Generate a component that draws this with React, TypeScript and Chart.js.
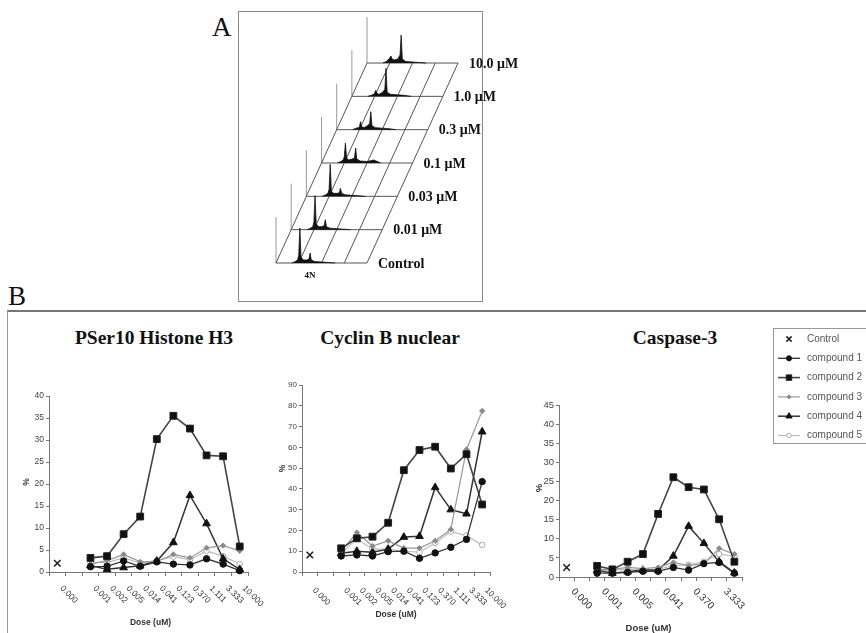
import React, { useEffect, useRef } from "react";
import { Chart, registerables } from "chart.js";
import { drawPoint } from "chart.js/helpers";

Chart.register(...registerables);

// ---------------- Panel A : DNA content histograms ----------------
const aRowLabels = ["Control", "0.01 μM", "0.03 μM", "0.1 μM", "0.3 μM", "1.0 μM", "10.0 μM"];
const a4NLabel = "4N";
const a4NChannel = 1.5;
const aChannels = [0.7, 0.85, 0.95, 1.0, 1.05, 1.1, 1.2, 1.35, 1.45, 1.5, 1.55, 1.7, 2.0, 2.3, 2.6];
const aCountsControl = [0, 1.5, 3, 8, 35, 6, 3, 3, 4, 10, 3, 1.5, 1, 0.5, 0];
const aCounts001 = [0, 1.5, 3, 8, 34, 6, 3, 3, 4, 10, 3, 1.5, 1, 0.5, 0];
const aCounts003 = [0, 1.5, 3, 7, 32, 5, 3, 3, 3.5, 8, 3, 1.5, 1, 0.5, 0];
const aCounts01 = [0, 1.5, 3, 6, 20, 5, 3, 4, 5, 15, 4, 2, 1.5, 3, 0];
const aCounts03 = [0, 1.5, 2, 3, 8, 3, 2, 4, 6, 18, 4, 2, 1.5, 1, 0];
const aCounts10 = [0, 1, 2, 3, 6, 3, 2, 4, 7, 28, 4, 2, 1.5, 1, 0];
const aCounts100 = [0, 1.5, 4, 5, 7, 4, 3, 4, 8, 28, 4, 1.5, 1, 0.5, 0];
const aCounts = [aCountsControl, aCounts001, aCounts003, aCounts01, aCounts03, aCounts10, aCounts100];
const aGridDivisions = 4;
const aRowStepY = 33.33;
const aRowStepX = 0.667;
const aAxisHeight = 46;

// ---------------- Panel B : dose response ----------------
const doseLabels = ["0.000", "", "0.001", "0.002", "0.005", "0.014", "0.041", "0.123", "0.370", "1.111", "3.333", "10.000"];
const controlName = "Control";
const compoundNames = ["compound 1", "compound 2", "compound 3", "compound 4", "compound 5"];
const xTitle = "Dose (uM)";
const yTitle = "%";
const chartTitles = ["PSer10 Histone H3", "Cyclin B nuclear", "Caspase-3"];

// PSer10 Histone H3
const h3Control = [2.0];
const h3C1 = [1.2, 1.3, 2.5, 1.3, 2.3, 1.8, 1.6, 3.0, 1.8, 0.3];
const h3C2 = [3.2, 3.6, 8.6, 12.6, 30.2, 35.5, 32.6, 26.5, 26.3, 5.8];
const h3C3 = [1.8, 2.6, 4.0, 2.3, 2.4, 4.0, 3.2, 5.5, 6.0, 4.8];
const h3C4 = [1.5, 0.6, 1.0, 1.4, 2.5, 6.7, 17.4, 11.0, 3.0, 0.6];
const h3C5 = [2.2, 2.2, 3.2, 2.0, 2.6, 3.5, 2.8, 4.8, 3.6, 1.8];

// Cyclin B nuclear
const cbControl = [8.2];
const cbC1 = [7.7, 8.2, 7.7, 9.8, 10.0, 6.6, 9.2, 11.9, 15.7, 43.5];
const cbC2 = [11.4, 16.2, 17.0, 23.7, 49.0, 58.7, 60.3, 49.8, 56.7, 32.5];
const cbC3 = [10.0, 19.0, 12.5, 15.0, 11.5, 11.5, 15.0, 20.5, 59.0, 77.5];
const cbC4 = [9.0, 10.0, 9.5, 11.0, 16.8, 17.2, 40.7, 30.0, 28.0, 67.5];
const cbC5 = [9.0, 16.0, 11.0, 11.0, 10.0, 9.5, 14.0, 19.5, 17.5, 13.0];

// Caspase-3
const csControl = [2.5];
const csC1 = [1.0, 1.0, 1.2, 1.5, 1.5, 2.5, 1.8, 3.5, 3.8, 1.0];
const csC2 = [2.9, 2.0, 4.0, 6.0, 16.5, 26.1, 23.5, 22.9, 15.1, 4.0];
const csC3 = [2.0, 2.0, 2.5, 2.2, 2.5, 3.8, 3.0, 3.5, 7.5, 6.0];
const csC4 = [1.8, 1.0, 1.4, 1.8, 1.8, 5.5, 13.3, 8.8, 4.0, 1.1];
const csC5 = [1.5, 1.8, 2.0, 1.8, 2.0, 3.0, 3.2, 4.0, 6.0, 5.5];

// styles
const markerStyles = ["circle", "rect", "rectRot", "triangle", "circle"];
const markerRadius = [3.2, 4.8, 2.6, 4.4, 2.8];
const markerFill = ["#111", "#111", "#8a8a8a", "#111", "#fff"];
const markerBorder = ["#111", "#222", "#8a8a8a", "#111", "#aaa"];
const lineColors = ["#333", "#444", "#999", "#333", "#bbb"];
const lineWidths = [1.3, 1.6, 1.2, 1.5, 1.2];

const SANS = '"Liberation Sans", Arial, sans-serif';
const SERIF = '"Liberation Serif", "Times New Roman", serif';

const doseAxisPlugin = {
  id: "doseAxis",
  afterDraw(chart: any, _a: any, o: any) {
    const { ctx, chartArea } = chart;
    const xs = chart.scales.x;
    const ys = chart.scales.y;
    const labels = chart.data.labels as string[];
    ctx.save();
    ctx.fillStyle = "#333";
    ctx.font = `${o.tickSize}px ${SANS}`;
    ctx.textAlign = "left";
    ctx.textBaseline = "middle";
    labels.forEach((lab, i) => {
      if (!lab || i % o.every !== 0) return;
      const px = xs.getPixelForValue(i);
      ctx.save();
      ctx.translate(px + o.labelDx, chartArea.bottom + o.labelDy);
      ctx.rotate(Math.PI / 4);
      ctx.fillText(lab, 0, 0);
      ctx.restore();
    });
    ctx.font = `bold ${o.titleSize}px ${SANS}`;
    ctx.textAlign = "center";
    ctx.fillText(xs.options.title.text, (chartArea.left + chartArea.right) / 2 + o.xTitleDx, chartArea.bottom + o.xTitleDy);
    ctx.save();
    ctx.translate(chartArea.left + o.yTitleDx, (chartArea.top + chartArea.bottom) / 2 + o.yTitleDy);
    ctx.rotate(-Math.PI / 2);
    ctx.fillText(ys.options.title.text, 0, 0);
    ctx.restore();
    ctx.restore();
  },
};

const sideLegendPlugin = {
  id: "sideLegend",
  afterDraw(chart: any, _a: any, o: any) {
    if (!o || !o.display) return;
    const ctx = chart.ctx;
    ctx.save();
    ctx.strokeStyle = "#999";
    ctx.lineWidth = 1;
    ctx.strokeRect(o.x + 0.5, o.y + 0.5, o.w, o.h);
    chart.data.datasets.forEach((ds: any, i: number) => {
      const cy = o.y + o.firstRow + i * o.rowGap;
      const x0 = o.x + o.sampleDx;
      if (ds.showLine !== false) {
        ctx.strokeStyle = ds.borderColor;
        ctx.lineWidth = ds.borderWidth;
        ctx.beginPath();
        ctx.moveTo(x0, cy);
        ctx.lineTo(x0 + o.sampleW, cy);
        ctx.stroke();
      }
      ctx.fillStyle = ds.pointBackgroundColor;
      ctx.strokeStyle = ds.pointBorderColor;
      ctx.lineWidth = ds.pointBorderWidth;
      drawPoint(ctx, { pointStyle: ds.pointStyle, radius: ds.pointRadius * 0.8, rotation: 0, borderWidth: ds.pointBorderWidth } as any, x0 + o.sampleW / 2, cy);
      ctx.fillStyle = "#555";
      ctx.font = `${o.fontSize}px ${SANS}`;
      ctx.textAlign = "left";
      ctx.textBaseline = "middle";
      ctx.fillText(ds.label, o.x + o.textDx, cy);
    });
    ctx.restore();
  },
};

const panelALabelsPlugin = {
  id: "panelALabels",
  afterDraw(chart: any) {
    const { ctx } = chart;
    const xs = chart.scales.x;
    const ys = chart.scales.y;
    ctx.save();
    ctx.fillStyle = "#111";
    ctx.font = `bold 14px ${SERIF}`;
    ctx.textAlign = "left";
    ctx.textBaseline = "middle";
    aRowLabels.forEach((lab, r) => {
      ctx.fillText(lab, xs.getPixelForValue(aGridDivisions + r * aRowStepX) + 11, ys.getPixelForValue(r * aRowStepY) + 1);
    });
    ctx.font = `bold 9px ${SERIF}`;
    ctx.textAlign = "center";
    ctx.fillText(a4NLabel, xs.getPixelForValue(a4NChannel), ys.getPixelForValue(0) + 13);
    ctx.restore();
  },
};

function lineDs(points: { x: number; y: number }[], color: string) {
  return { data: points, showLine: true, borderColor: color, borderWidth: 1, pointRadius: 0, fill: false, tension: 0 };
}

function makePanelA(canvas: HTMLCanvasElement) {
  const datasets: any[] = [];
  aCounts.forEach((counts, r) => {
    const base = r * aRowStepY;
    const shift = r * aRowStepX;
    datasets.push({
      data: aChannels.map((c, k) => ({ x: c + shift, y: base + counts[k] })),
      showLine: true,
      fill: { value: base },
      backgroundColor: "#111",
      borderColor: "#111",
      borderWidth: 0.8,
      pointRadius: 0,
      tension: 0,
    });
  });
  aCounts.forEach((_c, r) => {
    const base = r * aRowStepY;
    const shift = r * aRowStepX;
    datasets.push(lineDs([{ x: shift, y: base }, { x: aGridDivisions + shift, y: base }], "#555"));
  });
  const last = aCounts.length - 1;
  for (let c = 0; c <= aGridDivisions; c++) {
    datasets.push(lineDs([{ x: c, y: 0 }, { x: c + last * aRowStepX, y: last * aRowStepY }], "#555"));
  }
  aCounts.forEach((_c, r) => {
    const base = r * aRowStepY;
    const shift = r * aRowStepX;
    datasets.push(lineDs([{ x: shift, y: base }, { x: shift, y: base + aAxisHeight }], "#999"));
  });
  return new Chart(canvas, {
    type: "scatter",
    data: { datasets },
    options: {
      animation: false,
      responsive: false,
      devicePixelRatio: 1,
      events: [],
      layout: { padding: 0 },
      plugins: { legend: { display: false }, tooltip: { enabled: false } },
      scales: {
        x: { type: "linear", display: false, min: -1.582, max: 11.604 },
        y: { type: "linear", display: false, min: -38, max: 250 },
      },
    } as any,
    plugins: [panelALabelsPlugin],
  });
}

function compoundDataset(i: number, values: number[]) {
  return {
    label: compoundNames[i],
    data: [null, null, ...values],
    borderColor: lineColors[i],
    borderWidth: lineWidths[i],
    pointStyle: markerStyles[i],
    pointRadius: markerRadius[i],
    pointBackgroundColor: markerFill[i],
    pointBorderColor: markerBorder[i],
    pointBorderWidth: 1,
    fill: false,
    tension: 0,
    clip: false,
  };
}

function controlDataset(values: number[]) {
  return {
    label: controlName,
    data: values,
    showLine: false,
    borderColor: "#111",
    borderWidth: 1.5,
    pointStyle: "crossRot",
    pointRadius: 4.6,
    pointBackgroundColor: "#111",
    pointBorderColor: "#222",
    pointBorderWidth: 1.6,
    clip: false,
  };
}

function makeB(canvas: HTMLCanvasElement, cfg: any) {
  const datasets: any[] = [controlDataset(cfg.control), ...cfg.series.map((s: number[], i: number) => compoundDataset(i, s))];
  return new Chart(canvas, {
    type: "line",
    data: { labels: doseLabels, datasets },
    options: {
      animation: false,
      responsive: false,
      devicePixelRatio: 1,
      events: [],
      layout: { padding: { top: cfg.padTop, right: cfg.padRight, left: 0, bottom: 0 } },
      plugins: {
        legend: { display: false },
        tooltip: { enabled: false },
        doseAxis: cfg.axis,
        sideLegend: cfg.legend || { display: false },
      },
      scales: {
        x: {
          type: "category",
          offset: true,
          title: { display: false, text: xTitle },
          ticks: { display: false },
          grid: { offset: true, drawOnChartArea: false, drawTicks: true, tickLength: 4, color: "#777", lineWidth: 1 },
          border: { display: true, color: "#777", width: 1 },
          afterFit: (s: any) => {
            s.height = cfg.xAxisHeight;
          },
        },
        y: {
          type: "linear",
          min: 0,
          max: cfg.yMax,
          title: { display: false, text: yTitle },
          ticks: { stepSize: cfg.yStep, color: "#444", font: { size: cfg.tickFont, family: SANS }, padding: 2, autoSkip: false },
          grid: { drawOnChartArea: false, drawTicks: true, tickLength: 3, color: "#777" },
          border: { display: true, color: "#777", width: 1 },
          afterFit: (s: any) => {
            s.width = cfg.yAxisWidth;
          },
        },
      },
    } as any,
    plugins: [doseAxisPlugin, sideLegendPlugin],
  });
}

const abs = (left: number, top: number, extra: any = {}) => ({ position: "absolute" as const, left, top, ...extra });

export default function App() {
  const aRef = useRef<HTMLCanvasElement>(null);
  const c1Ref = useRef<HTMLCanvasElement>(null);
  const c2Ref = useRef<HTMLCanvasElement>(null);
  const c3Ref = useRef<HTMLCanvasElement>(null);

  useEffect(() => {
    const charts = [
      makePanelA(aRef.current!),
      makeB(c1Ref.current!, {
        control: h3Control,
        series: [h3C1, h3C2, h3C3, h3C4, h3C5],
        yMax: 40,
        yStep: 5,
        yAxisWidth: 39,
        xAxisHeight: 61,
        padTop: 16,
        padRight: 27,
        tickFont: 8.5,
        axis: { tickSize: 8.5, labelDx: 4, labelDy: 15, every: 1, titleSize: 8.5, xTitleDx: 2, xTitleDy: 51, yTitleDx: -22, yTitleDy: -2 },
      }),
      makeB(c2Ref.current!, {
        control: cbControl,
        series: [cbC1, cbC2, cbC3, cbC4, cbC5],
        yMax: 90,
        yStep: 10,
        yAxisWidth: 40,
        xAxisHeight: 61,
        padTop: 15,
        padRight: 30,
        tickFont: 8,
        axis: { tickSize: 8.5, labelDx: 4, labelDy: 17, every: 1, titleSize: 8.5, xTitleDx: 0, xTitleDy: 43, yTitleDx: -19, yTitleDy: -10 },
      }),
      makeB(c3Ref.current!, {
        control: csControl,
        series: [csC1, csC2, csC3, csC4, csC5],
        yMax: 45,
        yStep: 5,
        yAxisWidth: 39,
        xAxisHeight: 56,
        padTop: 85,
        padRight: 124,
        tickFont: 9.5,
        axis: { tickSize: 10, labelDx: 6, labelDy: 13, every: 2, titleSize: 9.5, xTitleDx: -2, xTitleDy: 51, yTitleDx: -20, yTitleDy: -3 },
        legend: { display: true, x: 253, y: 8, w: 120, h: 115, firstRow: 11, rowGap: 19.3, sampleDx: 5, sampleW: 22, textDx: 34, fontSize: 10 },
      }),
    ];
    return () => charts.forEach((c) => c.destroy());
  }, []);

  const titleStyle = (cx: number) =>
    abs(cx, 328, {
      transform: "translateX(-50%)",
      fontFamily: SERIF,
      fontWeight: "bold",
      fontSize: "19.5px",
      lineHeight: 1,
      whiteSpace: "nowrap",
      color: "#111",
    });

  return (
    <div style={abs(0, 0, { width: 866, height: 633, overflow: "hidden", background: "#fff" })}>
      <div style={abs(212, 14, { fontFamily: SERIF, fontSize: "27px", lineHeight: 1, color: "#111" })}>A</div>
      <div style={abs(238, 11, { width: 245, height: 291, border: "1px solid #888", boxSizing: "border-box" })} />
      <canvas ref={aRef} width={300} height={288} style={abs(240, 13, { width: 300, height: 288 })} />
      <div style={abs(8, 283, { fontFamily: SERIF, fontSize: "27px", lineHeight: 1, color: "#111" })}>B</div>
      <div style={abs(7, 310, { width: 900, height: 400, borderTop: "2px solid #777", borderLeft: "1px solid #999" })} />
      <div style={titleStyle(154)}>{chartTitles[0]}</div>
      <div style={titleStyle(390)}>{chartTitles[1]}</div>
      <div style={titleStyle(675)}>{chartTitles[2]}</div>
      <canvas ref={c1Ref} width={265} height={253} style={abs(10, 380, { width: 265, height: 253 })} />
      <canvas ref={c2Ref} width={258} height={263} style={abs(262, 370, { width: 258, height: 263 })} />
      <canvas ref={c3Ref} width={346} height={313} style={abs(520, 320, { width: 346, height: 313 })} />
    </div>
  );
}
